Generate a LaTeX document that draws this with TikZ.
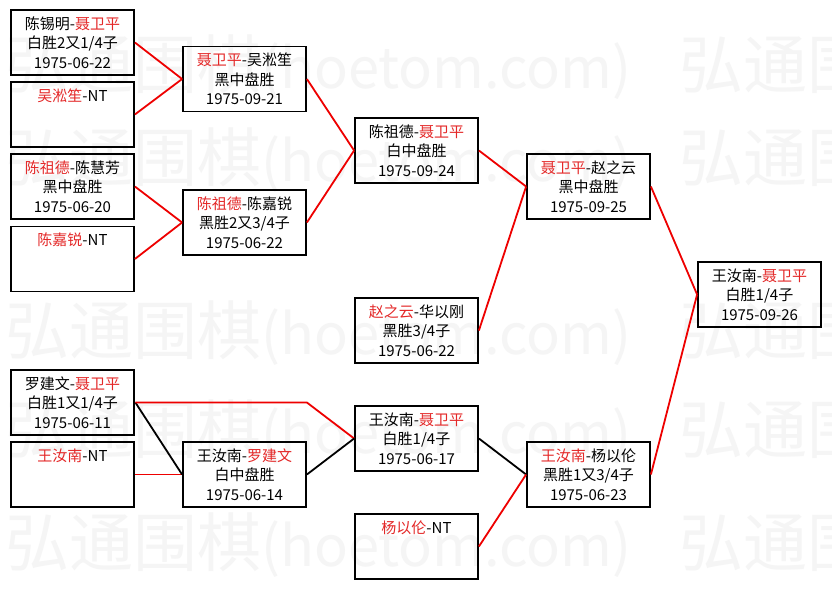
\documentclass[tikz,border=0pt]{standalone}
\usepackage{fontspec}
\setmainfont{Noto Sans CJK SC}
\usepackage{xcolor}
\usepackage{tikz}
\usetikzlibrary{positioning}
\definecolor{winred}{RGB}{228,40,40}
\definecolor{linered}{RGB}{238,0,0}
\newcommand{\wn}[1]{\textcolor{winred}{#1}}
\newcommand{\wmark}{弘通围棋{\fontsize{56}{56}\selectfont(hoetom.com)}\hspace{48pt}弘通围棋}

\begin{document}
\begin{tikzpicture}[x=1pt, y=-1pt, game/.style={draw, line width=1.8pt, minimum width=123pt, minimum height=65pt, inner sep=0pt, align=center, font=\fontsize{15}{19.5}\selectfont}, win/.style={draw=linered, line width=1.8pt}, lose/.style={draw=black, line width=1.8pt}, mark text/.style={anchor=west, inner sep=0pt, text=black!4, font=\fontsize{64}{64}\selectfont}]
  \useasboundingbox (0,0) rectangle (832,589);
  \fill[white] (0,0) rectangle (832,589);
  \begin{scope}
    \clip (0,0) rectangle (832,589);
    \foreach \y [count=\i] in {67,160,333,432,545}
      \node[mark text] (wm\i) at (5,\y) {\wmark};
  \end{scope}
  % first round
  \node[game] (a1) at (72.5,42.5) {陈锡明-\wn{聂卫平}\\白胜2又1/4子\\1975-06-22};
  \node[game] (a2) at (72.5,114.5) {\wn{吴淞笙}-NT\\~\\~};
  \node[game] (a3) at (72.5,186.5) {\wn{陈祖德}-陈慧芳\\黑中盘胜\\1975-06-20};
  \node[game] (a4) at (72.5,259) {\wn{陈嘉锐}-NT\\~\\~};
  \node[game, line width=2.8pt] (a5) at (72.5,402.5) {罗建文-\wn{聂卫平}\\白胜1又1/4子\\1975-06-11};
  \node[game] (a6) at (72.5,474.5) {\wn{王汝南}-NT\\~\\~};
  % second round
  \node[game] (b1) at (244.5,79) {\wn{聂卫平}-吴淞笙\\黑中盘胜\\1975-09-21};
  \node[game] (b2) at (244.5,222.5) {\wn{陈祖德}-陈嘉锐\\黑胜2又3/4子\\1975-06-22};
  \node[game] (b3) at (244.5,474.5) {王汝南-\wn{罗建文}\\白中盘胜\\1975-06-14};
  % third round
  \node[game] (c1) at (416.5,150.5) {陈祖德-\wn{聂卫平}\\白中盘胜\\1975-09-24};
  \node[game] (c2) at (416.5,330.5) {\wn{赵之云}-华以刚\\黑胜3/4子\\1975-06-22};
  \node[game] (c3) at (416.5,438.5) {王汝南-\wn{聂卫平}\\白胜1/4子\\1975-06-17};
  \node[game] (c4) at (416.5,546.5) {\wn{杨以伦}-NT\\~\\~};
  % semi final and final
  \node[game] (d1) at (588.5,186.5) {\wn{聂卫平}-赵之云\\黑中盘胜\\1975-09-25};
  \node[game] (d2) at (588.5,474.5) {\wn{王汝南}-杨以伦\\黑胜1又3/4子\\1975-06-23};
  \node[game] (f) at (759.5,294.5) {王汝南-\wn{聂卫平}\\白胜1/4子\\1975-09-26};

  \draw[win] (a1.east) -- (b1.west);
  \draw[win] (a2.east) -- (b1.west);
  \draw[win] (a3.east) -- (b2.west);
  \draw[win] (a4.east) -- (b2.west);
  \draw[win] (a6.east) -- (b3.west);
  \draw[lose] (a5.east) -- (b3.west);
  \draw[win] (a5.east) -- (b3.east |- a5.east) -- (c3.west);
  \draw[win] (b1.east) -- (c1.west);
  \draw[win] (b2.east) -- (c1.west);
  \draw[lose] (b3.east) -- (c3.west);
  \draw[win] (c1.east) -- (d1.west);
  \draw[win] (c2.east) -- (d1.west);
  \draw[lose] (c3.east) -- (d2.west);
  \draw[win] (c4.east) -- (d2.west);
  \draw[win] (d1.east) -- (f.west);
  \draw[win] (d2.east) -- (f.west);
\end{tikzpicture}
\end{document}
